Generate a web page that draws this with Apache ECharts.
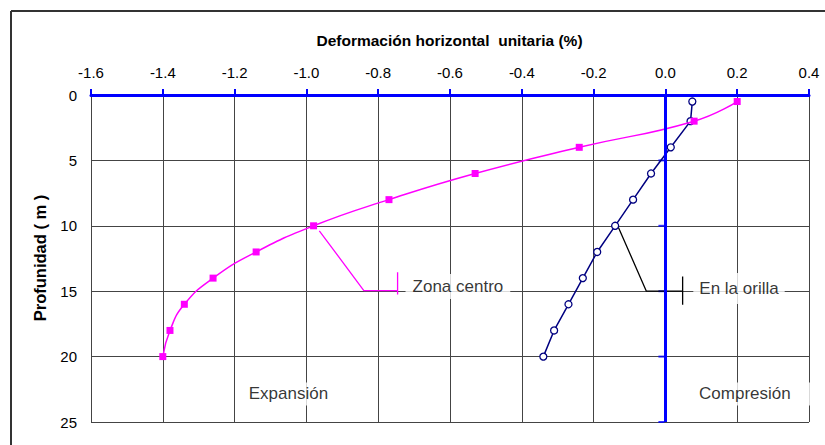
<!DOCTYPE html>
<html>
<head>
<meta charset="utf-8">
<script src="https://cdn.jsdelivr.net/npm/echarts@6/dist/echarts.min.js"></script>
<style>
html,body{margin:0;padding:0;background:#fff;}
#chart{width:825px;height:445px;}
</style>
</head>
<body>
<div id="chart"></div>
<script>
// ---- data ----
const depths = [0.5, 2, 4, 6, 8, 10, 12, 14, 16, 18, 20];
const zonaCentro = [0.2, 0.08, -0.24, -0.53, -0.77, -0.98, -1.14, -1.26, -1.34, -1.38, -1.40];
const enLaOrilla = [0.075, 0.07, 0.015, -0.04, -0.09, -0.14, -0.19, -0.23, -0.27, -0.31, -0.34];
const xTickLabels = ['-1.6', '-1.4', '-1.2', '-1.0', '-0.8', '-0.6', '-0.4', '-0.2', '0.0', '0.2', '0.4'];
const yTickLabels = ['0', '5', '10', '15', '20', '25'];
const zeroLineTicks = [5, 10, 15, 20, 25];
const titleText = 'Deformación horizontal \u00a0unitaria (%)';
const yAxisName = 'Profunidad ( m )';
// annotation anchors (data coordinates: deformation, depth)
const zonaLeader = [[-0.964, 10.38], [-0.84, 14.95], [-0.746, 14.95]];
const zonaTick = [[-0.746, 13.55], [-0.746, 15.25]];
const orillaLeader = [[-0.132, 10.05], [-0.053, 15.0], [0.048, 15.0]];
const orillaTick = [[0.048, 13.87], [0.048, 16.03]];
const noteTexts = ['Zona centro', 'En la orilla', 'Expansión', 'Compresión'];
const noteX = [-0.578, 0.205, -1.05, 0.2215];
const noteY = [14.64, 14.79, 22.85, 22.85];

// ---- styles ----
const FONT = 'Arial, "Liberation Sans", sans-serif';
const notePadding = [[4, 7, 4, 7], [6, 6, 8, 6], [3, 13, 3, 13], [3, 20, 3, 20]];

const chart = echarts.init(document.getElementById('chart'), null, {renderer: 'svg'});

function pairs(xs, ys) { return xs.map((x, i) => [x, ys[i]]); }

const option = {
  animation: false,
  backgroundColor: '#fff',
  grid: {left: 91, right: 16, top: 95, bottom: 23, outerBoundsMode: 'none'},
  xAxis: {
    type: 'value', position: 'top', min: -1.6, max: 0.4, interval: 0.2,
    axisLine: {show: true, onZero: false, lineStyle: {color: '#0000ff', width: 3}},
    axisTick: {show: true, length: 6, lineStyle: {color: '#0000ff', width: 2}},
    axisLabel: {margin: 15, fontSize: 15, color: '#000', fontFamily: FONT,
      formatter: (v, i) => xTickLabels[i]},
    splitLine: {show: true, lineStyle: {color: '#444', width: 1}}
  },
  yAxis: {
    type: 'value', inverse: true, min: 0, max: 25, interval: 5, position: 'left',
    axisLine: {show: false}, axisTick: {show: false},
    axisLabel: {margin: 14, fontSize: 15, color: '#000', fontFamily: FONT,
      formatter: (v, i) => yTickLabels[i]},
    splitLine: {show: true, lineStyle: {color: '#444', width: 1}}
  },
  graphic: [
    {type: 'line', shape: {x1: 11, y1: 11, x2: 825, y2: 11}, style: {stroke: '#333', lineWidth: 2}, z: 100},
    {type: 'line', shape: {x1: 11, y1: 11, x2: 11, y2: 445}, style: {stroke: '#333', lineWidth: 2}, z: 100},
    {type: 'text', x: 449.5, y: 40, z: 100,
      style: {text: titleText, fontSize: 15.5, fontWeight: 'bold', fontFamily: FONT, fill: '#000',
        align: 'center', verticalAlign: 'middle'}},
    {type: 'text', x: 40, y: 258, rotation: Math.PI / 2, z: 100,
      style: {text: yAxisName, fontSize: 16.5, fontWeight: 'bold', fontFamily: FONT, fill: '#000',
        align: 'center', verticalAlign: 'middle'}}
  ],
  series: [
    {
      // blue zero line with small ticks pointing left
      type: 'scatter', data: zeroLineTicks.map(v => [0, v]),
      symbol: 'rect', symbolSize: [6, 2], symbolOffset: [-4, 0],
      itemStyle: {color: '#0000ff'}, z: 2, silent: true,
      markLine: {
        silent: true, symbol: 'none', label: {show: false},
        lineStyle: {color: '#0000ff', width: 3, type: 'solid'},
        data: [{xAxis: 0}]
      }
    },
    {
      name: 'En la orilla', type: 'line', data: pairs(enLaOrilla, depths),
      symbol: 'circle', symbolSize: 7, showSymbol: true,
      lineStyle: {color: '#000080', width: 1.5},
      itemStyle: {color: '#fff', borderColor: '#000080', borderWidth: 1.3},
      z: 3
    },
    {
      name: 'Zona centro', type: 'line', data: pairs(zonaCentro, depths),
      smooth: 0.5, symbol: 'rect', symbolSize: 7,
      lineStyle: {color: '#ff00ff', width: 1.5},
      itemStyle: {color: '#ff00ff'},
      z: 4
    },
    {type: 'line', data: zonaLeader, symbol: 'none', lineStyle: {color: '#ff00ff', width: 1.3}, z: 3},
    {type: 'line', data: zonaTick, symbol: 'none', lineStyle: {color: '#ff00ff', width: 1.3}, z: 3},
    {type: 'line', data: orillaLeader, symbol: 'none', lineStyle: {color: '#000', width: 1.3}, z: 3},
    {type: 'line', data: orillaTick, symbol: 'none', lineStyle: {color: '#000', width: 1.3}, z: 3},
    {
      type: 'scatter', symbolSize: 1, itemStyle: {color: 'rgba(0,0,0,0)'}, z: 5,
      data: noteTexts.map((t, i) => ({
        value: [noteX[i], noteY[i]], name: t,
        label: {padding: notePadding[i]}
      })),
      label: {show: true, position: 'inside', formatter: p => p.name,
        fontSize: 17, fontFamily: FONT, color: '#000', backgroundColor: '#fff'},
      emphasis: {disabled: true}
    }
  ]
};
chart.setOption(option);
</script>
</body>
</html>
